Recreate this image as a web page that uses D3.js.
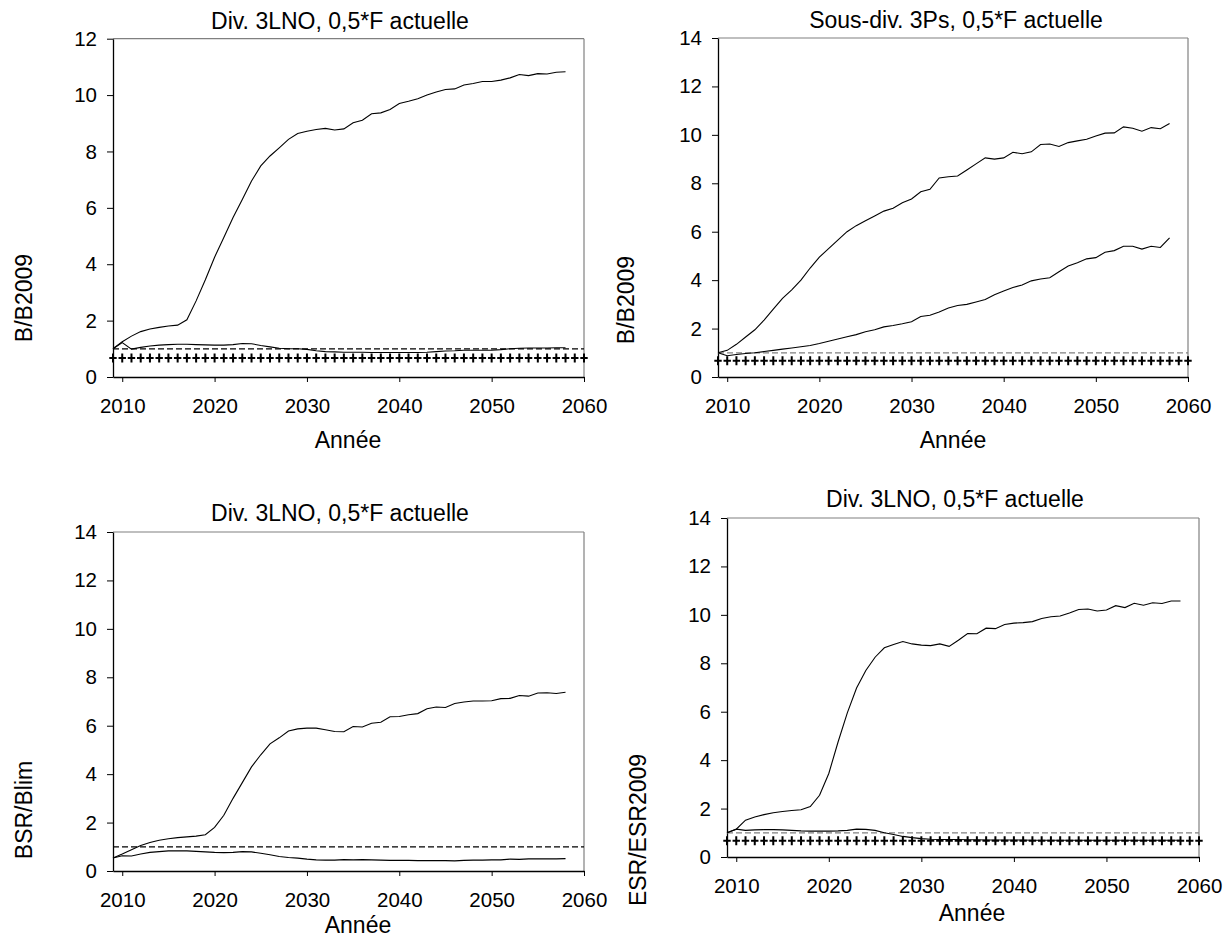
<!DOCTYPE html>
<html>
<head>
<meta charset="utf-8">
<script src="https://cdn.jsdelivr.net/npm/d3@7"></script>
<style>
  body { margin: 0; background: #fff; }
  svg { font-family: "Liberation Sans", Arial, sans-serif; }
  .tick text { font-size: 20.5px; fill: #000; }
  .domain, .tick line { stroke: #000; }
</style>
</head>
<body>
<svg id="chart" width="1226" height="949"></svg>
<script>
// years of the projection (lines), and years of the "+" reference markers
var years = [2009, 2010, 2011, 2012, 2013, 2014, 2015, 2016, 2017, 2018,
    2019, 2020, 2021, 2022, 2023, 2024, 2025, 2026, 2027, 2028,
    2029, 2030, 2031, 2032, 2033, 2034, 2035, 2036, 2037, 2038,
    2039, 2040, 2041, 2042, 2043, 2044, 2045, 2046, 2047, 2048,
    2049, 2050, 2051, 2052, 2053, 2054, 2055, 2056, 2057, 2058];
var markYears = years.concat([2059, 2060]);
var xTicks = [2010, 2020, 2030, 2040, 2050, 2060];

var dashedRef = 1;
var plusRef = 0.67;

// Div. 3LNO, B/B2009
var p1Upper = [1.0, 1.25, 1.45, 1.61, 1.7, 1.76, 1.81, 1.84, 2.03, 2.7,
    3.45, 4.25, 4.95, 5.66, 6.3, 6.95, 7.49, 7.84, 8.13, 8.43,
    8.64, 8.72, 8.78, 8.82, 8.76, 8.8, 9.02, 9.11, 9.34, 9.37,
    9.49, 9.7, 9.78, 9.87, 10.0, 10.11, 10.2, 10.22, 10.36, 10.41,
    10.48, 10.48, 10.53, 10.61, 10.73, 10.69, 10.76, 10.75, 10.81, 10.83];
var p1Lower = [1.0, 1.22, 0.99, 1.05, 1.1, 1.13, 1.15, 1.16, 1.16, 1.15,
    1.14, 1.13, 1.13, 1.15, 1.19, 1.18, 1.12, 1.07, 1.02, 1.0,
    1.0, 0.98, 0.93, 0.9, 0.89, 0.88, 0.88, 0.88, 0.87, 0.87,
    0.87, 0.87, 0.87, 0.87, 0.88, 0.9, 0.92, 0.93, 0.95, 0.95,
    0.95, 0.95, 0.97, 1.0, 1.02, 1.03, 1.03, 1.03, 1.04, 1.04];

// Sous-div. 3Ps, B/B2009
var p2Upper = [1.0, 1.1, 1.35, 1.65, 1.95, 2.35, 2.8, 3.25, 3.6, 4.0,
    4.5, 4.95, 5.3, 5.65, 6.0, 6.25, 6.45, 6.65, 6.85, 6.97,
    7.2, 7.35, 7.65, 7.75, 8.22, 8.27, 8.3, 8.55, 8.8, 9.05,
    9.0, 9.05, 9.28, 9.22, 9.3, 9.6, 9.62, 9.52, 9.68, 9.75,
    9.82, 9.95, 10.07, 10.08, 10.33, 10.27, 10.15, 10.3, 10.25, 10.47];
var p2Lower = [1.0, 0.88, 0.93, 0.97, 1.0, 1.05, 1.1, 1.15, 1.2, 1.25,
    1.3, 1.38, 1.48, 1.57, 1.66, 1.75, 1.87, 1.95, 2.07, 2.13,
    2.2, 2.28, 2.5, 2.55, 2.68, 2.85, 2.95, 3.0, 3.1, 3.2,
    3.4, 3.55, 3.7, 3.8, 3.97, 4.05, 4.1, 4.35, 4.58, 4.72,
    4.88, 4.93, 5.15, 5.22, 5.4, 5.4, 5.28, 5.4, 5.35, 5.75];

// Div. 3LNO, BSR/Blim
var p3Upper = [0.54, 0.7, 0.88, 1.05, 1.18, 1.27, 1.33, 1.38, 1.41, 1.44,
    1.5, 1.8, 2.3, 3.0, 3.65, 4.3, 4.8, 5.25, 5.5, 5.78,
    5.87, 5.9, 5.9, 5.83, 5.76, 5.75, 5.97, 5.95, 6.1, 6.14,
    6.37, 6.38, 6.45, 6.5, 6.7, 6.77, 6.75, 6.92, 6.98, 7.02,
    7.02, 7.03, 7.12, 7.13, 7.25, 7.22, 7.35, 7.36, 7.33, 7.38];
var p3Lower = [0.54, 0.63, 0.62, 0.7, 0.77, 0.8, 0.83, 0.83, 0.83, 0.81,
    0.79, 0.77, 0.76, 0.77, 0.8, 0.79, 0.73, 0.67, 0.6, 0.56,
    0.53, 0.49, 0.46, 0.45, 0.45, 0.47, 0.46, 0.47, 0.46, 0.45,
    0.44, 0.44, 0.44, 0.43, 0.43, 0.43, 0.43, 0.42, 0.44, 0.45,
    0.45, 0.46, 0.46, 0.49, 0.48, 0.5, 0.5, 0.5, 0.5, 0.51];

// Div. 3LNO, ESR/ESR2009
var p4Upper = [1.0, 1.15, 1.52, 1.65, 1.75, 1.83, 1.88, 1.92, 1.95, 2.08,
    2.55, 3.45, 4.75, 5.95, 6.98, 7.7, 8.25, 8.64, 8.78, 8.9,
    8.8, 8.75, 8.73, 8.8, 8.7, 8.95, 9.23, 9.22, 9.45, 9.43,
    9.6, 9.66, 9.68, 9.72, 9.85, 9.92, 9.95, 10.08, 10.22, 10.24,
    10.16, 10.2, 10.38, 10.3, 10.48, 10.4, 10.5, 10.47, 10.57, 10.57];
var p4Lower = [1.0, 1.15, 1.1, 1.12, 1.13, 1.13, 1.12, 1.1, 1.08, 1.07,
    1.07, 1.07, 1.08, 1.1, 1.15, 1.14, 1.1, 1.0, 0.93, 0.85,
    0.8, 0.76, 0.73, 0.72, 0.72, 0.72, 0.71, 0.71, 0.7, 0.7,
    0.7, 0.7, 0.7, 0.69, 0.69, 0.69, 0.69, 0.69, 0.69, 0.69,
    0.69, 0.69, 0.69, 0.69, 0.69, 0.69, 0.69, 0.69, 0.69, 0.69];

var panels = [
    {title: "Div. 3LNO, 0,5*F actuelle", ylab: "B/B2009", ymax: 12, series: [p1Upper, p1Lower], plus: true,
     left: 113, right: 584, top: 38.7, bottom: 377, titleX: 340, titleY: 29, ylabX: 32, ylabY: 298,
     xlabX: 348, xlabY: 448, dashColor: "#000"},
    {title: "Sous-div. 3Ps, 0,5*F actuelle", ylab: "B/B2009", ymax: 14, series: [p2Upper, p2Lower], plus: true,
     left: 718, right: 1188, top: 38, bottom: 377, titleX: 956, titleY: 28, ylabX: 634, ylabY: 300,
     xlabX: 953, xlabY: 448, dashColor: "#808080"},
    {title: "Div. 3LNO, 0,5*F actuelle", ylab: "BSR/Blim", ymax: 14, series: [p3Upper, p3Lower], plus: false,
     left: 113, right: 584, top: 532, bottom: 871, titleX: 340, titleY: 521, ylabX: 32, ylabY: 810,
     xlabX: 358, xlabY: 933, dashColor: "#000"},
    {title: "Div. 3LNO, 0,5*F actuelle", ylab: "ESR/ESR2009", ymax: 14, series: [p4Upper, p4Lower], plus: true,
     left: 727, right: 1199, top: 518, bottom: 857, titleX: 955, titleY: 507, ylabX: 646, ylabY: 830,
     xlabX: 972, xlabY: 921, dashColor: "#808080"}
];

var svg = d3.select("#chart");

panels.forEach(function (p) {
    var x = d3.scaleLinear().domain([2009, 2060]).range([p.left, p.right]);
    var y = d3.scaleLinear().domain([0, p.ymax]).range([p.bottom, p.top]);
    var g = svg.append("g");

    // frame: top and right edges
    g.append("line").attr("x1", p.left).attr("x2", p.right).attr("y1", p.top).attr("y2", p.top)
        .style("stroke", "#808080").style("stroke-width", 1.2);
    g.append("line").attr("x1", p.right).attr("x2", p.right).attr("y1", p.top).attr("y2", p.bottom)
        .style("stroke", "#808080").style("stroke-width", 1.2);

    // axes
    g.append("g")
        .attr("transform", "translate(0," + p.bottom + ")")
        .call(d3.axisBottom(x).tickValues(xTicks).tickFormat(d3.format("d")).tickSizeInner(5).tickSizeOuter(0).tickPadding(16));
    g.append("g")
        .attr("transform", "translate(" + p.left + ",0)")
        .call(d3.axisLeft(y).ticks(p.ymax / 2).tickSizeInner(6).tickSizeOuter(0).tickPadding(10));
    g.selectAll(".domain").style("stroke-width", 1.3);

    // reference lines
    g.append("line")
        .attr("x1", x(2009)).attr("x2", x(2060))
        .attr("y1", y(dashedRef)).attr("y2", y(dashedRef))
        .style("stroke", p.dashColor).style("stroke-width", 1.2).style("stroke-dasharray", "6,3");

    if (p.plus) {
        g.selectAll("path.plus").data(markYears).enter().append("path")
            .attr("class", "plus")
            .attr("d", "M-3.7,0H3.7M0,-4.5V4.5")
            .attr("transform", function (d) { return "translate(" + x(d) + "," + y(plusRef) + ")"; })
            .style("stroke", "#000").style("stroke-width", 2).style("fill", "none");
    }

    var line = d3.line()
        .x(function (d, i) { return x(years[i]); })
        .y(function (d) { return y(d); });

    p.series.forEach(function (s) {
        g.append("path").datum(s)
            .attr("d", line)
            .style("fill", "none").style("stroke", "#000").style("stroke-width", 1.1);
    });

    // texts
    g.append("text").attr("x", p.titleX).attr("y", p.titleY)
        .style("text-anchor", "middle").style("font-size", "23px").text(p.title);
    g.append("text").attr("x", p.xlabX).attr("y", p.xlabY)
        .style("text-anchor", "middle").style("font-size", "23px").text("Année");
    g.append("text")
        .attr("transform", "translate(" + p.ylabX + "," + p.ylabY + ") rotate(-90)")
        .style("text-anchor", "middle").style("font-size", "23px").text(p.ylab);
});
</script>
</body>
</html>
